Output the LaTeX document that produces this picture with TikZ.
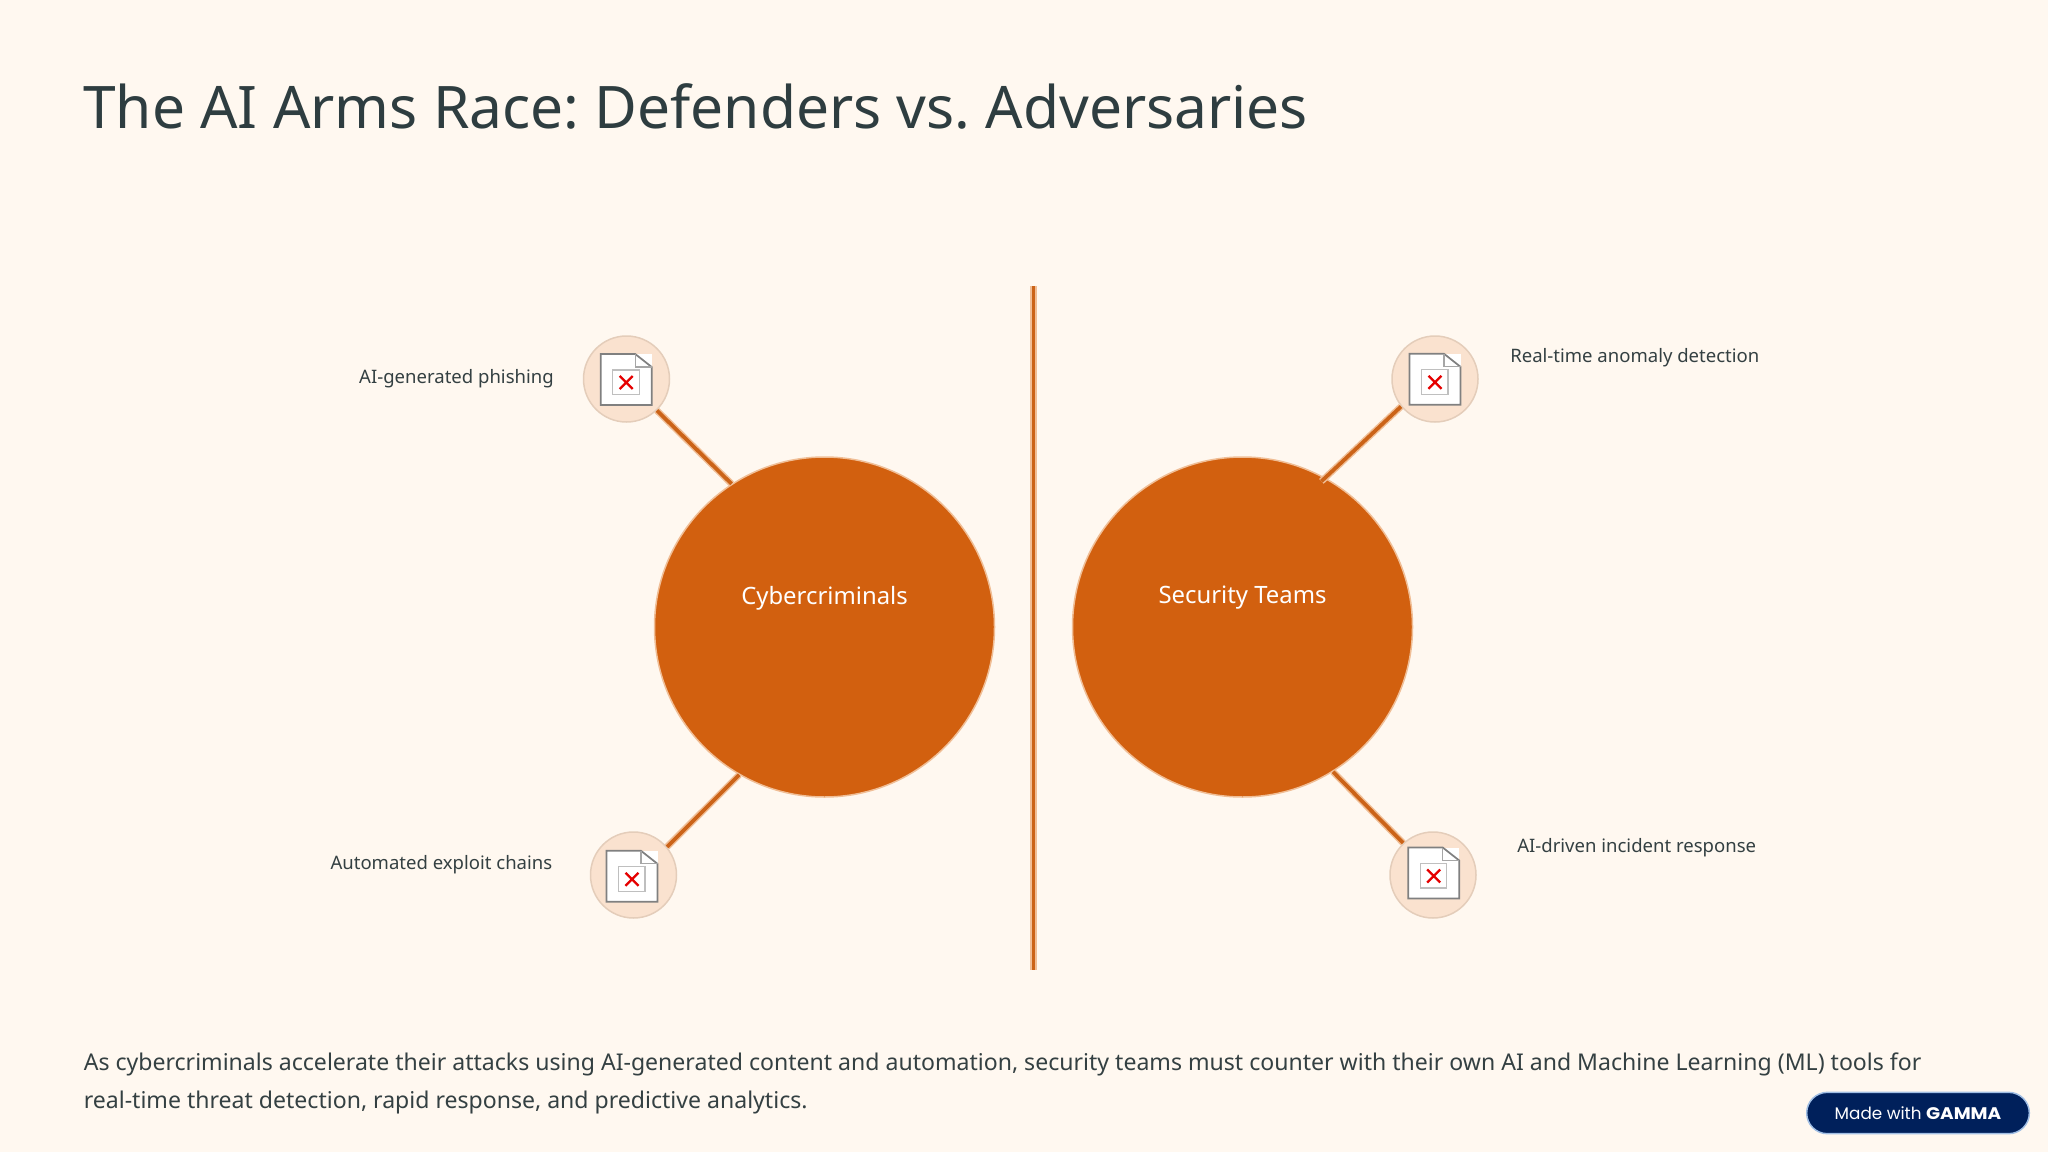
\documentclass[tikz,border=0pt]{standalone}
\usepackage{fontspec}
\setmainfont{Noto Sans}
\newfontfamily\badgefont{Poppins}
\newfontfamily\gammafont[FakeStretch=1.1]{Poppins}
\usetikzlibrary{positioning}
\definecolor{pagebg}{RGB}{255,248,240}
\definecolor{rustorange}{RGB}{210,96,15}
\definecolor{palehalo}{RGB}{240,190,150}
\definecolor{peachfill}{RGB}{250,226,207}
\definecolor{peachedge}{RGB}{228,205,186}
\definecolor{titleslate}{RGB}{46,61,64}
\definecolor{bodyslate}{RGB}{52,64,66}
\definecolor{badgenavy}{RGB}{0,32,91}
\definecolor{badgeedge}{RGB}{160,190,228}
\tikzset{
  bigcircle/.style={circle,fill=rustorange,draw=palehalo,line width=1.5*0.75pt,minimum size=255pt,inner sep=0pt},
  iconcircle/.style={circle,fill=peachfill,draw=peachedge,line width=1.5*0.75pt,minimum size=64.5pt,inner sep=0pt},
  sidelabel/.style={font=\fontsize{13.9pt}{17pt}\selectfont,text=bodyslate,inner sep=0pt},
  circlelabel/.style={font=\fontsize{17.9pt}{22pt}\selectfont,text=white,inner sep=0pt},
  linkhalo/.style={draw=palehalo,line width=5pt},
  linkline/.style={draw=rustorange!92!gray,line width=2.8pt},
  docicon/.pic={
    \fill[white] (-25.5,-25.5) rectangle (25.5,25.5);
    \draw[gray,line width=1.3pt] (9,-25.5) -- (-25.5,-25.5) -- (-25.5,25.5) -- (25.5,25.5) -- (25.5,-12.5) -- cycle;
    \draw[gray!70,line width=0.9pt] (9,-25.5) -- (9,-12.5) -- (25.5,-12.5);
    \draw[gray!50,line width=1pt] (-13.5,-9.5) rectangle (13,15);
    \draw[red!90!black,line width=1.7pt] (-6.5,-3.5) -- (6.5,9.5) (-6.5,9.5) -- (6.5,-3.5);
  }
}

\begin{document}
\begin{tikzpicture}[x=0.75pt,y=-0.75pt]
  \frenchspacing
  \useasboundingbox[fill=pagebg] (0,0) rectangle (2048,1152);
  % heading and text
  \node[anchor=west,inner sep=0pt,text=titleslate,font=\fontsize{44pt}{54pt}\selectfont] (heading) at (83,106) {The AI Arms Race: Defenders vs. Adversaries};
  \node[anchor=west,inner sep=0pt,align=left,text=bodyslate,font=\fontsize{17.3pt}{28.3pt}\selectfont] (bodytext) at (83.5,1083.5) {As cybercriminals accelerate their attacks using AI-generated content and automation, security teams must counter with their own AI and Machine Learning (ML) tools for\\real-time threat detection, rapid response, and predictive analytics.};
  % divider
  \coordinate (divtop) at (1033.5,286);
  \coordinate (divbot) at (1033.5,970);
  \draw[linkhalo] (divtop) -- (divbot);
  \draw[linkline] (divtop) -- (divbot);
  % main circles
  \node[bigcircle] (cyber) at (824.5,627) {};
  \node[bigcircle] (secteam) at (1242.5,627) {};
  \node[circlelabel] (cyberlabel) at (824.5,598) {Cybercriminals};
  \node[circlelabel] (secteamlabel) at (1242.5,598) {Security Teams};
  % small circles
  \node[iconcircle] (phish) at (626.5,379) {};
  \node[iconcircle] (exploit) at (633.5,875) {};
  \node[iconcircle] (anomaly) at (1435,379) {};
  \node[iconcircle] (incident) at (1433,875) {};
  % connectors
  \foreach \nfrom/\nto/\over in {phish.-46/cyber.123/0,exploit.40/cyber.-120/0,anomaly.-141/secteam.61/-4,incident.133/secteam.-58.6/0} {
    \draw[linkhalo,shorten >=\over pt] (\nfrom) -- (\nto);
    \draw[linkline,shorten >=\over pt] (\nfrom) -- (\nto);
  }
  % broken image icons
  \foreach \ix/\iy in {626.2/379.5,632/876.3,1435/379.3,1433.7/873} {
    \pic at (\ix,\iy) {docicon};
  }
  % labels
  \node[sidelabel,anchor=east] (phishlabel) at (554,379) {AI-generated phishing};
  \node[sidelabel,anchor=east] (exploitlabel) at (552.5,865) {Automated exploit chains};
  \node[sidelabel,anchor=west] (anomalylabel) at (1510,358) {Real-time anomaly detection};
  \node[sidelabel,anchor=west] (incidentlabel) at (1517,848) {AI-driven incident response};
  % badge
  \node[rounded corners=15.5pt,fill=badgenavy,draw=badgeedge,line width=1.1pt,minimum width=167pt,minimum height=31pt,inner sep=0pt,text=white,font=\badgefont\fontsize{12.6pt}{15pt}\selectfont] (badge) at (1918,1113) {Made with {\gammafont\bfseries GAMMA}};
\end{tikzpicture}
\end{document}
